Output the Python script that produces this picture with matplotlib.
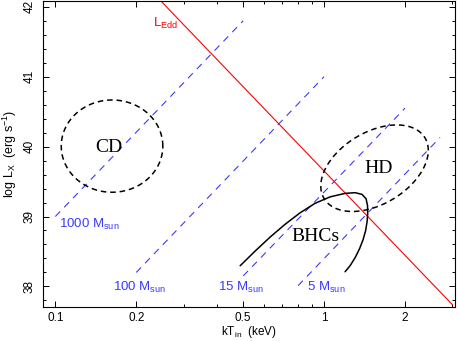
import numpy as np
import matplotlib
matplotlib.use("Agg")
import matplotlib.pyplot as plt
from matplotlib.ticker import FixedLocator, NullFormatter

plt.rcParams['font.family'] = ['Liberation Sans', 'DejaVu Sans']
plt.rcParams['mathtext.fontset'] = 'custom'
plt.rcParams['mathtext.rm'] = 'Liberation Sans'
plt.rcParams['mathtext.it'] = 'Liberation Sans:italic'
plt.rcParams['lines.scale_dashes'] = False

# ---------------- data ----------------
# constant-mass lines (kT_in endpoints, log L_X endpoints)
mass_labels = ['1000', '100', '15', '5']
mass_T = [[0.1, 0.5], [0.2, 1.0], [0.5, 2.0], [0.8, 2.7]]
mass_L = [[39.0, 41.8], [38.2, 41.0], [38.15, 40.55], [38.01, 40.13]]
mass_label_T = [0.1029, 0.1638, 0.4045, 0.862]
mass_label_L = [38.84, 37.93, 37.93, 37.93]

# Eddington line
edd_T = [0.2, 3.0]
edd_L = [42.45, 37.74]

# BHCs track
bhc_T = [0.4873, 0.554, 0.6299, 0.7161, 0.8142, 0.9258, 1.0527, 1.197, 1.304, 1.384,
         1.433, 1.451, 1.453, 1.445, 1.427, 1.396, 1.355, 1.304, 1.249, 1.197]
bhc_L = [38.296, 38.506, 38.706, 38.889, 39.053, 39.189, 39.281, 39.331, 39.341, 39.317,
         39.253, 39.153, 39.039, 38.924, 38.796, 38.667, 38.539, 38.410, 38.296, 38.210]

# regions (center logT, center logL, half-extent in logT, half-extent in logL, phase deg)
cd_ellipse = [-0.789, 40.007, 0.189, 0.66, 0.0]
hd_ellipse = [0.1877, 39.691, 0.200, 0.619, 24.4]

x_major = [0.1, 0.2, 0.5, 1, 2]
x_major_labels = ['0.1', '0.2', '0.5', '1', '2']
x_minor = [0.3, 0.4, 0.6, 0.7, 0.8, 0.9, 3]
y_major = [38, 39, 40, 41, 42]

BLUE = '#3a3aff'

fig = plt.figure(figsize=(4.58, 3.41), dpi=100)
ax = fig.add_axes([0.0945, 0.1006, 0.899, 0.8979])
ax.set_xscale('log')
ax.set_xlim(0.0902, 3.07)
ax.set_ylim(37.71, 42.09)

for T, L in zip(mass_T, mass_L):
    ax.plot(T, L, color=BLUE, lw=0.8, dashes=(5.0, 4.2))
for lab, tx, ly in zip(mass_labels, mass_label_T, mass_label_L):
    ax.text(tx, ly, lab + r' $\mathrm{M_{sun}}$', color=BLUE, fontsize=9.5,
            ha='left', va='baseline')

ax.plot(edd_T, edd_L, color='red', lw=0.8)
ax.text(0.2313, 41.71, r'L$_\mathrm{Edd}$', color='red', fontsize=9.5,
        ha='left', va='baseline')

ax.plot(bhc_T, bhc_L, color='black', lw=1.1, solid_capstyle='round',
        solid_joinstyle='round')

phi = np.linspace(0, 2 * np.pi, 300)
for cx, cy, axx, ayy, d in (cd_ellipse, hd_ellipse):
    lt = cx + axx * np.cos(phi)
    ll = cy + ayy * np.sin(phi + np.radians(d))
    ax.plot(10 ** lt, ll, color='black', lw=1.1, dashes=(4.0, 2.8))

serif = ['Liberation Serif', 'DejaVu Serif']
ax.text(0.1578, 39.99, 'CD', family=serif, fontsize=14, ha='center', va='center')
ax.text(1.601, 39.68, 'HD', family=serif, fontsize=14, ha='center', va='center')
ax.text(0.930, 38.71, 'BHCs', family=serif, fontsize=14, ha='center', va='center')

ax.xaxis.set_major_locator(FixedLocator(x_major))
ax.set_xticklabels(x_major_labels)
ax.xaxis.set_minor_locator(FixedLocator(x_minor))
ax.xaxis.set_minor_formatter(NullFormatter())
ax.yaxis.set_major_locator(FixedLocator(y_major))
ax.yaxis.set_minor_locator(FixedLocator(np.arange(37.8, 42.1, 0.2)))

ax.tick_params(which='both', direction='in', top=True, right=True, width=0.7,
               labelsize=8.5)
ax.tick_params(which='major', length=4.3)
ax.tick_params(which='minor', length=2.4)
ax.tick_params(axis='x', pad=4.0)
ax.tick_params(axis='y', pad=5.5)
for lab in ax.get_yticklabels():
    lab.set_rotation(90)
    lab.set_va('center')
for s in ax.spines.values():
    s.set_linewidth(0.8)

ax.set_xlabel(r'kT$_\mathrm{in}$  (keV)', fontsize=8.5, labelpad=0.0)
ax.set_ylabel(r'log L$_\mathrm{X}$  (erg s$^{-1}$)', fontsize=9, labelpad=3.5)

fig.savefig('out.png', dpi=100)
